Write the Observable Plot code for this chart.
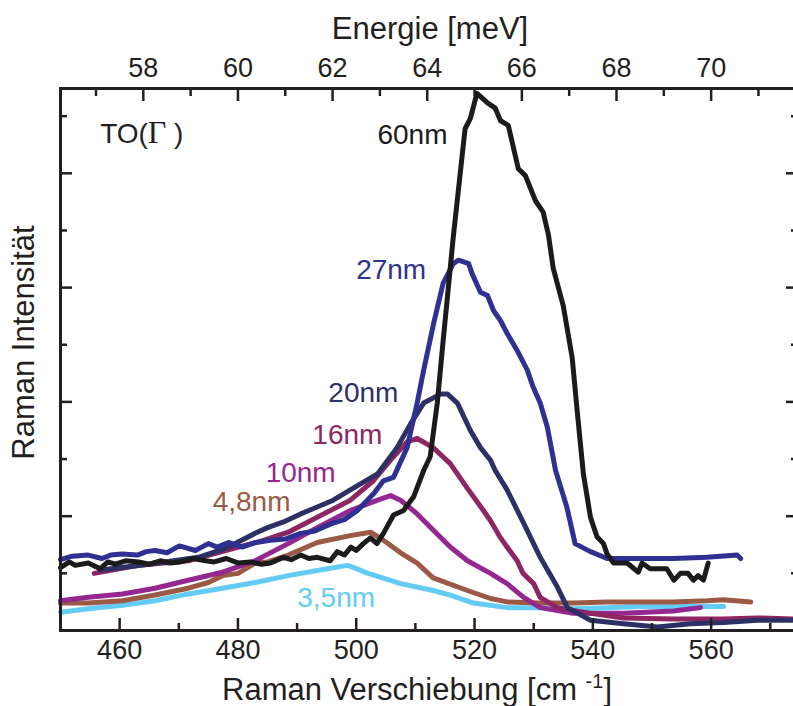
<!DOCTYPE html>
<html><head><meta charset="utf-8">
<script src="https://cdn.jsdelivr.net/npm/d3@7"></script>
<script src="https://cdn.jsdelivr.net/npm/@observablehq/plot@0.6"></script>
<style>html,body{margin:0;padding:0;background:#fff;overflow:hidden;}</style>
</head><body><div id="chart"></div>
<script>
// Raman shift (cm^-1), intensity (arb. units)
const s60 = [[450,0.55],[451.5,0.6],[452.5,0.57],[454.7,0.59],[456.7,0.54],[458,0.6],[459.3,0.58],[461,0.61],[463.2,0.6],[465,0.58],[466.9,0.61],[468.5,0.59],[470.3,0.6],[472.5,0.63],[474.5,0.61],[476,0.6],[478,0.63],[480.1,0.59],[482.1,0.6],[484,0.58],[485.5,0.59],[487.7,0.64],[489,0.62],[490.6,0.66],[492,0.63],[493.4,0.64],[495.6,0.61],[496.8,0.69],[498,0.66],[499.1,0.73],[500,0.7],[501.2,0.76],[502.4,0.81],[503.5,0.76],[504.6,0.85],[506.3,1.01],[508,1.05],[509.7,1.17],[511.4,1.4],[512.5,1.52],[513.7,1.99],[514.7,2.54],[516.4,3.44],[518.4,4.39],[519.3,4.48],[520.4,4.70],[522.1,4.62],[523.5,4.57],[524.4,4.46],[525.7,4.42],[527.4,4.04],[528.6,3.98],[530.3,3.76],[531.6,3.66],[532.5,3.46],[533.3,3.17],[535,2.84],[536.5,2.39],[537.3,1.95],[538.4,1.37],[539.6,0.99],[540.7,0.82],[541.8,0.76],[542.4,0.67],[543.5,0.59],[545.8,0.59],[547.7,0.51],[548.3,0.59],[549.7,0.54],[552.5,0.54],[553.7,0.44],[554.8,0.5],[556.1,0.5],[557,0.44],[557.8,0.48],[558.7,0.44],[559.5,0.59]];
const s27 = [[450,0.62],[452,0.65],[454.7,0.66],[457,0.63],[458.5,0.66],[460.4,0.67],[463,0.66],[464.5,0.69],[466,0.70],[468,0.68],[470.1,0.74],[472.8,0.70],[475,0.76],[476.5,0.73],[478.4,0.77],[480.7,0.73],[483,0.77],[485.5,0.79],[488,0.8],[490.6,0.85],[493,0.87],[496.1,0.94],[498,0.97],[500.2,1.05],[503,1.2],[504.6,1.31],[506.3,1.34],[508.6,1.6],[510.3,1.99],[511.4,2.28],[513.1,2.69],[514.7,3.04],[516.4,3.21],[517.3,3.24],[519,3.21],[519.6,3.12],[521,2.96],[522.2,2.93],[523.2,2.8],[524.4,2.71],[525.5,2.6],[527.2,2.45],[528.9,2.28],[529.9,2.13],[531.1,1.99],[532.3,1.78],[533.7,1.4],[535.6,1.08],[537,0.76],[539.6,0.69],[542.4,0.63],[548,0.63],[553.6,0.63],[559.3,0.64],[564.4,0.66],[565,0.63]];
const s20 = [[456.7,0.53],[465,0.58],[473.3,0.64],[478,0.72],[482.9,0.85],[485,0.9],[487.7,0.95],[490.6,1.02],[493.4,1.08],[496.1,1.14],[499,1.23],[503.6,1.37],[506.9,1.6],[509.2,1.81],[511.4,1.99],[514.3,2.07],[515.4,2.07],[517.1,1.99],[519.3,1.75],[521,1.6],[522.7,1.49],[523.5,1.4],[525.5,1.23],[528.3,0.94],[531.1,0.64],[534,0.38],[535.7,0.2],[539.6,0.09],[545.2,0.06],[550.9,0.03],[556.5,0.06],[562.1,0.07],[567.9,0.09],[574.6,0.09]];
const s16 = [[455.7,0.5],[463.2,0.57],[471.6,0.61],[480.1,0.73],[483.8,0.78],[488.5,0.86],[493.4,0.99],[499,1.14],[502.9,1.31],[505.8,1.49],[508.6,1.65],[510.3,1.68],[513,1.6],[515.9,1.46],[518.7,1.25],[521.5,1.05],[522.7,0.96],[524.4,0.81],[525.5,0.73],[527.2,0.61],[528.2,0.5],[530,0.41],[531.1,0.29],[534,0.2],[539.6,0.15],[545.2,0.11],[553.6,0.1],[562.1,0.1],[567.8,0.11],[574.6,0.1]];
const s10 = [[450,0.26],[454.7,0.29],[460.5,0.32],[466,0.37],[471.6,0.44],[477.4,0.51],[482.9,0.61],[488.5,0.76],[493.4,0.9],[499,1.05],[503.6,1.14],[505.8,1.18],[507.5,1.14],[510.3,1.02],[513,0.88],[515.9,0.73],[518.8,0.61],[522.7,0.5],[525.5,0.41],[528.3,0.29],[531.1,0.2],[536.7,0.15],[545.2,0.15],[553.6,0.17],[558.2,0.2]];
const s48 = [[450,0.24],[454.7,0.24],[460.5,0.26],[466,0.31],[471.6,0.37],[475,0.42],[477.4,0.48],[480,0.5],[482.9,0.59],[485,0.6],[488.5,0.66],[493.4,0.77],[499,0.83],[502.4,0.86],[504.6,0.79],[507.5,0.68],[510.3,0.59],[513,0.46],[518.8,0.35],[522.7,0.28],[525.5,0.25],[531.1,0.24],[536.7,0.24],[542.5,0.25],[548,0.25],[553.6,0.25],[559.4,0.26],[562.1,0.27],[566.7,0.25]];
const s35 = [[450,0.16],[454.7,0.19],[460.5,0.22],[466,0.26],[471.6,0.32],[477.4,0.37],[482.9,0.42],[488.5,0.48],[493.9,0.53],[498.5,0.57],[499.6,0.55],[502,0.5],[507.5,0.41],[513,0.35],[515.9,0.31],[519.8,0.24],[525.5,0.2],[531.1,0.2],[536.7,0.19],[542.5,0.2],[548,0.21],[553.6,0.21],[562.1,0.21]];

const seriesNames  = ["3,5nm", "4,8nm", "10nm", "16nm", "20nm", "27nm", "60nm"];
const seriesData   = [s35, s48, s10, s16, s20, s27, s60];
const seriesColors = ["#62ccf5", "#9a5a45", "#952791", "#8e2662", "#2d3065", "#2e3192", "#1b1b1b"];
const labelX = [496.6, 482.3, 490.6, 498.5, 501.2, 505.9, 509.5];
const labelY = [0.28, 1.12, 1.374, 1.706, 2.082, 3.15, 4.331];

const xMajor = [460, 480, 500, 520, 540, 560];
const xMinor = [450, 470, 490, 510, 530, 550, 570];
const eMajor = [58, 60, 62, 64, 66, 68, 70];   // meV
const eMinor = [57, 59, 61, 63, 65, 67, 69, 71];
const cmPerMeV = 8;
const yMajor = [1, 2, 3, 4];
const yMinor = [0.5, 1.5, 2.5, 3.5, 4.5];

const rows = seriesData.flatMap((s, i) => s.map(([x, y]) => ({x, y, name: seriesNames[i], color: seriesColors[i]})));
const labels = seriesNames.map((t, i) => ({t, x: labelX[i], y: labelY[i], c: seriesColors[i]}));
const ink = "#231f20";
const blank = () => "";

const chart = Plot.plot({
  width: 799, height: 706,
  marginLeft: 60, marginRight: 2, marginTop: 88, marginBottom: 76,
  style: {fontFamily: "'Liberation Sans', Arial, sans-serif", color: ink, maxWidth: "none", background: "#fff"},
  x: {domain: [450, 574.6], label: null},
  y: {domain: [0, 4.742], label: null},
  color: {type: "identity"},
  marks: [
    ...seriesNames.map((n, i) => Plot.line(rows.filter(d => d.name === n), {x: "x", y: "y", stroke: seriesColors[i], strokeWidth: 5, strokeLinejoin: "round", strokeLinecap: "round"})),
    Plot.text(labels, {x: "x", y: "y", text: "t", fill: "c", fontSize: 28}),
    Plot.text(["TO(Γ )"], {x: [456.7], y: [4.348], text: d => d, textAnchor: "start", fontSize: 28, fill: ink}),
    // bottom axis
    Plot.axisX(xMajor, {anchor: "bottom", tickSize: -12, strokeWidth: 2.5, tickFormat: blank, label: null, stroke: ink}),
    Plot.axisX(xMinor, {anchor: "bottom", tickSize: -7, strokeWidth: 2.5, tickFormat: blank, label: null, stroke: ink}),
    Plot.axisX(xMajor, {anchor: "bottom", tickSize: 0, tickPadding: 9, fontSize: 27, label: null, fill: ink}),
    // top axis (energy)
    Plot.axisX(eMajor.map(e => e * cmPerMeV), {anchor: "top", tickSize: -12, strokeWidth: 2.5, tickFormat: blank, label: null, stroke: ink}),
    Plot.axisX(eMinor.map(e => e * cmPerMeV), {anchor: "top", tickSize: -7, strokeWidth: 2.5, tickFormat: blank, label: null, stroke: ink}),
    Plot.axisX(eMajor.map(e => e * cmPerMeV), {anchor: "top", tickSize: 0, tickPadding: 12, fontSize: 27, label: null, fill: ink, tickFormat: d => String(d / cmPerMeV)}),
    // left/right axes
    Plot.axisY(yMajor, {anchor: "left", tickSize: -12, strokeWidth: 2.5, tickFormat: blank, label: null, stroke: ink}),
    Plot.axisY(yMinor, {anchor: "left", tickSize: -7, strokeWidth: 2.5, tickFormat: blank, label: null, stroke: ink}),
    Plot.axisY(yMajor, {anchor: "right", tickSize: -12, strokeWidth: 2.5, tickFormat: blank, label: null, stroke: ink}),
    Plot.axisY(yMinor, {anchor: "right", tickSize: -7, strokeWidth: 2.5, tickFormat: blank, label: null, stroke: ink}),
    Plot.frame({stroke: ink, strokeWidth: 3}),
    // titles
    Plot.text(["Energie [meV]"], {frameAnchor: "top", lineAnchor: "middle", textAnchor: "middle", dy: -59, dx: 1, text: d => d, fontSize: 31, fill: ink}),
    Plot.text(["Raman Verschiebung [cm -1]"], {frameAnchor: "bottom", lineAnchor: "middle", textAnchor: "middle", dy: 60, dx: -12, text: d => d, fontSize: 31, fill: ink}),
    Plot.text(["Raman Intensität"], {frameAnchor: "left", lineAnchor: "middle", textAnchor: "middle", dx: -36, dy: -17, rotate: -90, text: d => d, fontSize: 31, fill: ink})
  ]
});
document.getElementById("chart").appendChild(chart);

// typographic touches: superscript and serif Gamma
d3.select(chart).selectAll("text").each(function() {
  const t = this.textContent;
  if (t === "Raman Verschiebung [cm -1]") {
    this.textContent = "";
    const s = d3.select(this);
    s.append("tspan").text("Raman Verschiebung [cm ");
    s.append("tspan").attr("dy", -12).attr("font-size", 20).text("-1");
    s.append("tspan").attr("dy", 12).text("]");
  } else if (t === "TO(Γ )") {
    this.textContent = "";
    const s = d3.select(this);
    s.append("tspan").text("TO(");
    s.append("tspan").attr("font-family", "'Liberation Serif', 'Times New Roman', serif").attr("font-size", 32).text("Γ");
    s.append("tspan").text(" )");
  }
});
</script></body></html>
